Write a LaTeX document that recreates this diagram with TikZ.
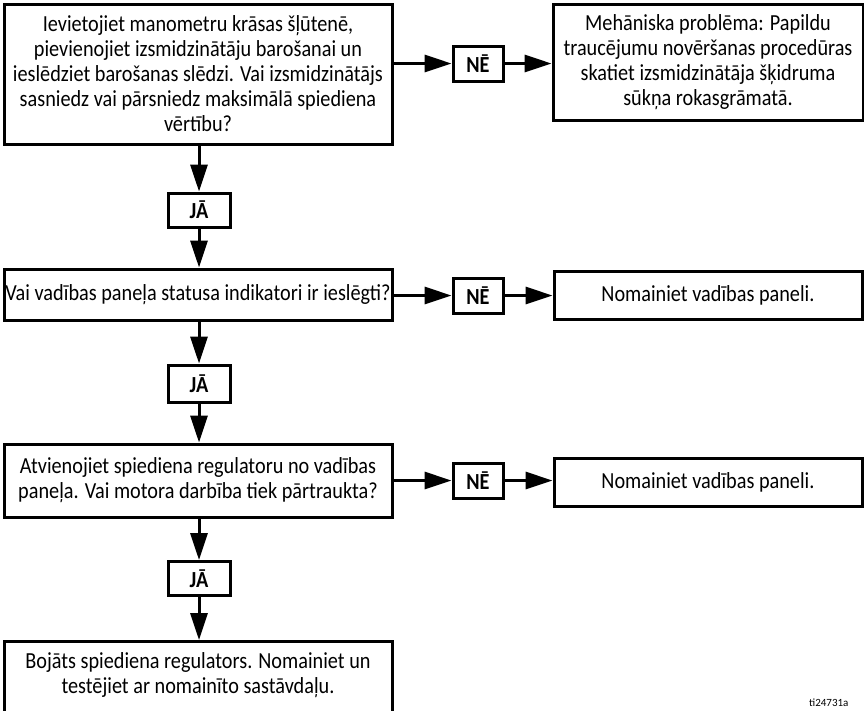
\documentclass[tikz,border=0pt]{standalone}
\usepackage{fontspec}
\setmainfont[FakeStretch=0.88]{Carlito}
\newfontfamily\tagfont{Carlito}
\usetikzlibrary{arrows.meta}
\begin{document}
\begin{tikzpicture}[x=1pt,y=-1pt,
  box/.style={draw,line width=3pt,inner sep=1pt,align=center,font=\fontsize{23}{25}\selectfont},
  ans/.style={draw,line width=3pt,inner sep=0pt,font=\bfseries\fontsize{23}{24}\selectfont,minimum width=50pt,minimum height=35pt},
  arr/.style={line width=3pt,-{Triangle[length=27pt,width=17pt]}}]
\useasboundingbox (0,0) rectangle (864,710);
\node[box,minimum width=388pt,minimum height=140pt] (q1) at (198,74)
 {Ievietojiet manometru krāsas šļūtenē,\\pievienojiet izsmidzinātāju barošanai un\\ieslēdziet barošanas slēdzi. Vai izsmidzinātājs\\sasniedz vai pārsniedz maksimālā spiediena\\vērtību?};
\node[ans] (n1) at (478,63.5) {NĒ};
\node[box,minimum width=310pt,minimum height=116pt] (r1) at (708,62)
 {Mehāniska problēma: Papildu\\traucējumu novēršanas procedūras\\skatiet izsmidzinātāja šķidruma\\sūkņa rokasgrāmatā.};
\node[ans,minimum width=62pt,minimum height=34pt] (y1) at (199,210) {JĀ};
\node[box,minimum width=388pt,minimum height=51pt] (q2) at (198,294.5)
 {Vai vadības paneļa statusa indikatori ir ieslēgti?};
\node[ans] (n2) at (478,295.5) {NĒ};
\node[box,minimum width=308pt,minimum height=48pt] (r2) at (708,295)
 {Nomainiet vadības paneli.};
\node[ans,minimum width=62pt,minimum height=37pt] (y2) at (199,383.5) {JĀ};
\node[box,minimum width=388pt,minimum height=73pt] (q3) at (198,480.5)
 {Atvienojiet spiediena regulatoru no vadības\\paneļa. Vai motora darbība tiek pārtraukta?};
\node[ans] (n3) at (478,480.5) {NĒ};
\node[box,minimum width=308pt,minimum height=48pt] (r3) at (708,482)
 {Nomainiet vadības paneli.};
\node[ans,minimum width=62pt,minimum height=34pt] (y3) at (199,578.5) {JĀ};
\node[box,minimum width=388pt,minimum height=80pt,anchor=north,inner ysep=11pt,text depth=30pt] (f) at (198,640)
 {Bojāts spiediena regulators. Nomainiet un\\testējiet ar nomainīto sastāvdaļu.};
\node[font=\tagfont\fontsize{11}{12}\selectfont,anchor=base east] (tag) at (852,706) {ti24731a};
\draw[arr] (q1.east|-n1) -- (n1);
\draw[arr] (n1) -- (r1.west|-n1);
\draw[arr] (q2.east|-n2) -- (n2);
\draw[arr] (n2) -- (r2.west|-n2);
\draw[arr] (q3.east|-n3) -- (n3);
\draw[arr] (n3) -- (r3.west|-n3);
\draw[arr] (q1.south-|y1) -- (y1);
\draw[arr] (y1) -- (q2.north-|y1);
\draw[arr] (q2.south-|y2) -- (y2);
\draw[arr] (y2) -- (q3.north-|y2);
\draw[arr] (q3.south-|y3) -- (y3);
\draw[arr] (y3) -- (f.north-|y3);
\end{tikzpicture}
\end{document}
